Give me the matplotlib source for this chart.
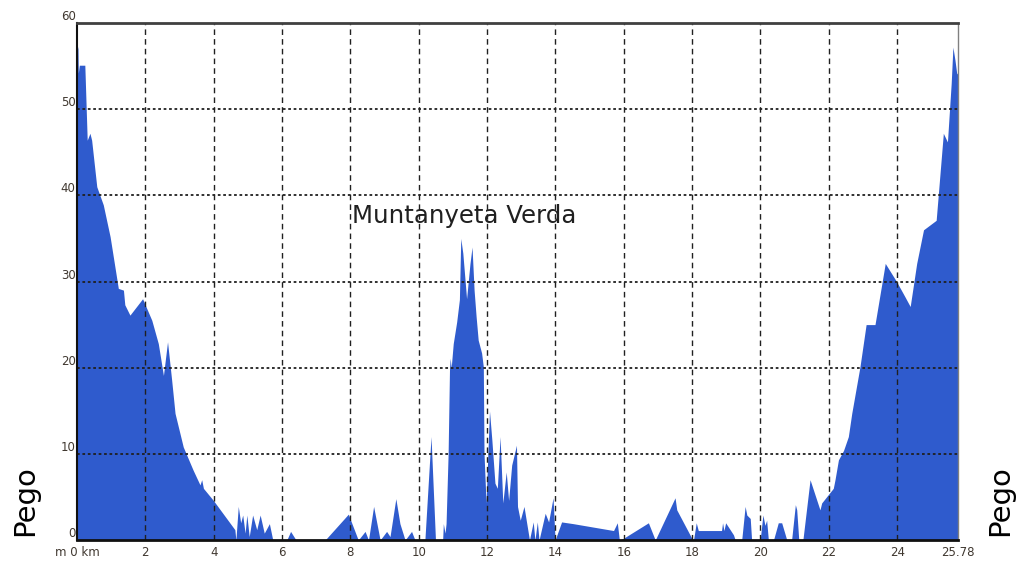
import matplotlib
matplotlib.use("Agg")
import matplotlib.pyplot as plt

# distance along route (km) and height (m)
km = [0.00, 0.03, 0.04, 0.07, 0.23, 0.30, 0.38, 0.43, 0.58, 0.77, 0.97, 1.21, 1.36, 1.40,
      1.55, 1.92, 2.19, 2.38, 2.53, 2.65, 2.77, 2.87, 3.11, 3.40, 3.60, 3.65, 3.70, 3.99,
      4.62, 4.65, 4.72, 4.79, 4.85, 4.92, 4.97, 5.04, 5.14, 5.26, 5.36, 5.48, 5.63, 5.73,
      6.14, 6.25, 6.41, 7.26, 7.94, 8.23, 8.43, 8.53, 8.68, 8.87, 9.06, 9.16, 9.33, 9.45,
      9.60, 9.79, 9.89, 10.18, 10.36, 10.49, 10.70, 10.72, 10.77, 10.80, 10.86, 10.90,
      10.92, 10.95, 11.01, 11.11, 11.19, 11.23, 11.29, 11.40, 11.50, 11.56, 11.62, 11.68,
      11.74, 11.84, 11.89, 11.91, 11.97, 12.07, 12.14, 12.23, 12.30, 12.38, 12.46, 12.56,
      12.63, 12.72, 12.86, 12.89, 12.97, 13.08, 13.24, 13.35, 13.40, 13.47, 13.52, 13.70,
      13.80, 13.93, 13.99, 14.18, 14.52, 15.70, 15.81, 15.87, 15.99, 16.72, 16.92, 17.50,
      17.55, 17.99, 18.04, 18.12, 18.18, 18.86, 18.89, 18.93, 18.98, 19.21, 19.26, 19.45,
      19.55, 19.60, 19.70, 19.74, 19.99, 20.07, 20.13, 20.18, 20.23, 20.38, 20.52, 20.62,
      20.77, 20.91, 21.02, 21.06, 21.12, 21.24, 21.45, 21.74, 21.79, 22.13, 22.18, 22.28,
      22.43, 22.57, 22.67, 22.91, 23.09, 23.35, 23.65, 23.98, 24.23, 24.38, 24.57, 24.77,
      25.14, 25.35, 25.47, 25.58, 25.63, 25.69, 25.74, 25.78]
height = [57.6, 57.0, 54.2, 55.1, 55.1, 46.4, 47.2, 46.4, 41.0, 38.9, 35.2, 29.2, 29.0, 27.3,
          26.1, 28.0, 25.5, 22.8, 19.1, 23.0, 18.6, 14.7, 10.8, 8.1, 6.4, 7.0, 6.0, 4.6,
          1.2, 0.0, 3.9, 2.0, 2.9, 0.8, 2.9, 0.4, 2.9, 1.2, 2.9, 0.8, 1.9, 0.0,
          0.0, 1.0, 0.0, 0.0, 3.0, 0.0, 1.0, 0.0, 3.9, 0.0, 1.0, 0.4, 4.8, 1.9,
          0.0, 1.0, 0.0, 0.0, 12.0, 0.0, 0.0, 1.9, 0.8, 1.9, 10.0, 19.7,
          21.1, 20.0, 22.8, 25.3, 27.9, 35.0, 33.3, 28.0, 32.1, 34.0, 29.0, 25.9,
          23.2, 21.7, 20.1, 10.1, 4.3, 15.0, 11.6, 6.6, 6.0, 12.0, 4.3, 7.9,
          4.6, 8.7, 11.0, 3.9, 2.3, 3.9, 0.0, 2.1, 0.0, 2.1, 0.0, 3.1,
          2.1, 4.9, 0.0, 2.1, 1.9, 1.1, 2.0, 0.0, 0.2, 2.0, 0.0, 4.9,
          3.5, 0.2, 0.0, 2.0, 1.1, 1.1, 2.0, 1.1, 2.0, 0.6, 0.0, 0.0,
          3.9, 2.9, 2.5, 0.0, 0.0, 2.9, 1.7, 2.3, 0.0, 0.0, 2.0, 2.0,
          0.0, 0.0, 4.1, 3.5, 0.0, 0.0, 7.0, 3.5, 4.3, 6.0, 7.0, 9.3,
          10.4, 12.0, 14.7, 20.1, 25.0, 25.0, 32.1, 30.0, 28.2, 27.1, 32.1, 36.0,
          37.1, 47.2, 46.2, 53.0, 57.2, 55.7, 54.2, 54.0]

x_ticks = [0, 2, 4, 6, 8, 10, 12, 14, 16, 18, 20, 22, 24, 25.78]
x_labels = ['m 0 km', '2', '4', '6', '8', '10', '12', '14', '16', '18', '20', '22', '24', '25.78']
y_ticks = [0, 10, 20, 30, 40, 50, 60]

fig = plt.figure(figsize=(10.18, 5.62), dpi=100)
ax = fig.add_axes([0.0756, 0.0391, 0.8655, 0.9200])

ax.fill_between(km, height, 0, color='#2f5bcd', linewidth=0, zorder=1)

# grid on top of the profile
for xv in x_ticks[1:-1]:
    ax.axvline(xv, color='#202020', linestyle=(0, (4, 3)), linewidth=1, zorder=3)
for yv in y_ticks[1:-1]:
    ax.axhline(yv, color='#202020', linestyle=(0, (1.5, 1.5)), linewidth=1.3, zorder=3)

ax.set_xlim(0, 25.78)
ax.set_ylim(0, 60)
ax.set_xticks(x_ticks)
ax.set_xticklabels(x_labels)
ax.set_yticks(y_ticks)
ax.tick_params(length=0, labelsize=8.5, colors='#403830', pad=4)
ax.tick_params(axis='y', pad=1)
for lab in ax.get_yticklabels():
    lab.set_verticalalignment('bottom')
for lab in ax.get_xticklabels() + ax.get_yticklabels():
    lab.set_family(['Liberation Sans Narrow', 'DejaVu Sans'])

ax.spines['bottom'].set_linewidth(2)
ax.spines['bottom'].set_color('#101010')
ax.spines['left'].set_linewidth(1.5)
ax.spines['left'].set_color('#101010')
ax.spines['top'].set_linewidth(2)
ax.spines['top'].set_color('#404040')
ax.spines['right'].set_linewidth(1)
ax.spines['right'].set_color('#808080')
for sp in ax.spines.values():
    sp.set_zorder(4)

ax.text(11.33, 37.6, 'Muntanyeta Verda', fontsize=17.6, color='#202020',
        ha='center', va='center', family=['DejaVu Sans'])

fig.text(0.025, 0.11, 'Pego', rotation=90, fontsize=21, ha='center', va='center',
         family=['DejaVu Sans'])
fig.text(0.982, 0.11, 'Pego', rotation=90, fontsize=21, ha='center', va='center',
         family=['DejaVu Sans'])

fig.savefig('out.png', dpi=100)
